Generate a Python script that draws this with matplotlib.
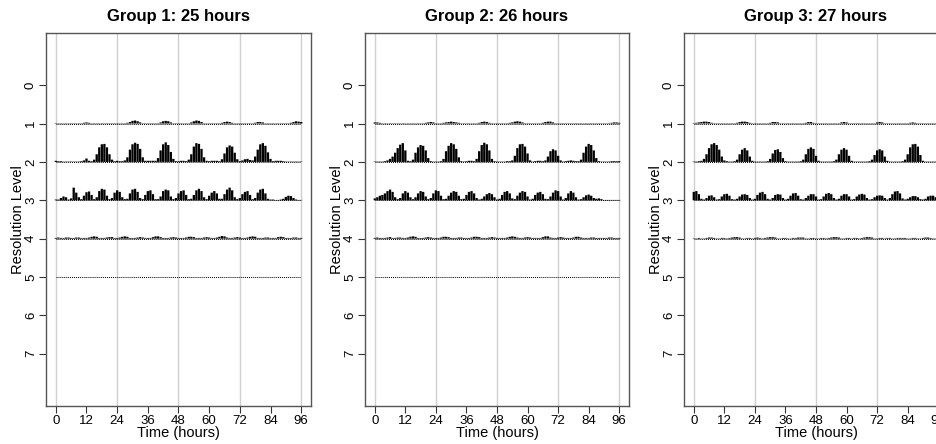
import matplotlib

matplotlib.use("Agg")

import matplotlib.pyplot as plt  # noqa: E402
import numpy as np  # noqa: E402

plt.rcParams["font.family"] = ["Liberation Sans", "DejaVu Sans"]

# hourly time axis shared by all panels
HOURS = np.arange(97)
TITLES = ["Group 1: 25 hours", "Group 2: 26 hours", "Group 3: 27 hours"]
X_TICKS = [0, 12, 24, 36, 48, 60, 72, 84, 96]
X_GRID = [0, 24, 48, 72, 96]
Y_TICKS = [0, 1, 2, 3, 4, 5, 6, 7]

# coefficient magnitudes, hundredths of a level spacing, one value per hour
G1_L1 = [1, 1, 1, 1, 1, 1, 1, 1, 1, 1, 1, 2, 3, 2, 1, 1, 1, 1, 1, 1,
         1, 1, 1, 1, 1, 1, 1, 1, 2, 4, 7, 8, 6, 3, 1, 1, 1, 1, 1, 1,
         1, 3, 6, 7, 6, 3, 1, 1, 1, 1, 1, 1, 1, 3, 6, 8, 7, 4, 1, 1,
         1, 1, 1, 1, 1, 2, 4, 5, 4, 2, 1, 1, 1, 1, 1, 1, 1, 1, 2, 4,
         4, 3, 1, 1, 1, 1, 1, 1, 1, 1, 1, 1, 2, 4, 6, 5, 4]
G1_L2 = [3, 2, 2, 1, 1, 1, 1, 1, 1, 1, 2, 4, 9, 3, 2, 6, 20, 38, 46, 47,
         38, 20, 6, 2, 3, 2, 2, 4, 12, 32, 46, 50, 47, 34, 12, 3, 3, 3, 3, 3,
         10, 30, 46, 51, 44, 26, 8, 2, 2, 3, 3, 2, 6, 20, 40, 49, 47, 34, 12, 3,
         2, 3, 3, 3, 2, 7, 22, 38, 43, 40, 24, 7, 2, 4, 7, 8, 5, 4, 14, 32,
         46, 49, 42, 25, 8, 2, 3, 3, 3, 2, 1, 1, 1, 1, 1, 1, 1]
G1_L3 = [2, 2, 6, 10, 8, 2, 5, 33, 20, 8, 3, 12, 21, 23, 14, 3, 8, 24, 30, 28,
         12, 3, 6, 20, 26, 22, 8, 3, 4, 18, 28, 30, 22, 6, 3, 14, 24, 26, 16, 3,
         3, 10, 24, 28, 26, 10, 3, 6, 18, 24, 26, 14, 3, 4, 14, 26, 30, 24, 8, 3,
         12, 20, 24, 18, 4, 4, 16, 28, 33, 26, 8, 3, 6, 16, 22, 24, 14, 3, 6, 20,
         28, 30, 18, 4, 2, 2, 1, 1, 2, 4, 9, 12, 11, 6, 2, 1, 1]
G1_L4 = [2, 3, 2, 2, 3, 3, 2, 2, 3, 3, 2, 2, 2, 3, 5, 6, 5, 2, 2, 2,
         3, 4, 4, 2, 2, 3, 5, 6, 5, 2, 2, 2, 3, 4, 3, 2, 2, 2, 4, 6,
         6, 4, 2, 2, 2, 3, 4, 3, 2, 2, 2, 3, 5, 5, 4, 2, 2, 2, 3, 4,
         3, 2, 2, 3, 5, 7, 6, 3, 2, 2, 3, 4, 3, 2, 2, 3, 5, 6, 5, 2,
         2, 2, 3, 3, 2, 2, 2, 4, 5, 4, 2, 2, 2, 3, 3, 2, 2]
G1_L5 = [0] * 97

G2_L1 = [3, 3, 2, 1, 1, 1, 1, 1, 1, 1, 1, 1, 1, 1, 1, 1, 1, 1, 1, 1,
         2, 3, 4, 3, 1, 1, 1, 2, 3, 4, 5, 4, 3, 2, 1, 1, 1, 1, 1, 1,
         1, 2, 4, 5, 4, 2, 1, 1, 1, 1, 1, 1, 1, 2, 3, 5, 6, 5, 3, 1,
         1, 1, 1, 1, 1, 1, 2, 4, 5, 5, 3, 1, 1, 1, 1, 1, 1, 1, 1, 1,
         1, 1, 1, 1, 1, 1, 1, 1, 1, 1, 1, 1, 1, 2, 3, 3, 2]
G2_L2 = [1, 1, 1, 1, 2, 4, 8, 14, 24, 36, 45, 49, 30, 3, 2, 6, 24, 38, 44, 42,
         30, 10, 2, 1, 1, 1, 2, 8, 28, 42, 49, 46, 34, 12, 2, 1, 2, 3, 3, 2,
         8, 28, 44, 50, 46, 30, 8, 2, 1, 1, 1, 1, 2, 2, 4, 16, 36, 46, 47, 40,
         22, 4, 1, 2, 3, 3, 2, 4, 14, 28, 33, 30, 16, 4, 1, 2, 3, 4, 3, 2,
         2, 6, 24, 40, 47, 44, 30, 10, 2, 1, 1, 1, 1, 2, 2, 2, 2]
G2_L3 = [5, 8, 12, 14, 18, 24, 28, 22, 8, 3, 6, 18, 24, 20, 8, 3, 8, 18, 24, 22,
         10, 3, 6, 18, 26, 24, 12, 3, 4, 12, 20, 24, 22, 12, 3, 4, 14, 22, 24, 18,
         6, 2, 4, 10, 16, 19, 16, 8, 2, 4, 14, 22, 24, 18, 5, 3, 12, 20, 24, 22,
         10, 2, 4, 14, 20, 22, 16, 4, 3, 10, 20, 26, 24, 10, 2, 6, 18, 24, 20, 8,
         2, 3, 8, 13, 15, 12, 6, 4, 5, 3, 1, 1, 1, 1, 1, 1, 1]
G2_L4 = [2, 3, 2, 2, 2, 3, 4, 2, 2, 3, 3, 2, 2, 3, 5, 6, 5, 2, 2, 2,
         3, 4, 3, 2, 2, 2, 3, 5, 5, 4, 2, 2, 2, 3, 3, 2, 2, 2, 3, 5,
         5, 4, 2, 2, 2, 3, 4, 3, 2, 2, 2, 2, 3, 5, 6, 5, 3, 2, 2, 3,
         4, 3, 2, 2, 2, 2, 4, 6, 6, 3, 2, 2, 3, 4, 3, 2, 2, 2, 3, 5,
         5, 3, 2, 2, 2, 3, 3, 2, 2, 2, 2, 2, 3, 3, 2, 2, 2]
G2_L5 = [0] * 97

G3_L1 = [1, 2, 3, 4, 5, 5, 4, 2, 1, 1, 1, 1, 1, 1, 1, 1, 1, 2, 4, 5,
         5, 4, 2, 1, 1, 1, 1, 1, 1, 1, 2, 4, 4, 3, 1, 1, 1, 1, 1, 1,
         1, 1, 1, 1, 2, 4, 4, 2, 1, 1, 1, 1, 1, 1, 1, 1, 1, 1, 3, 4,
         3, 1, 1, 1, 1, 1, 1, 1, 1, 1, 1, 1, 3, 4, 3, 1, 1, 1, 1, 1,
         1, 1, 1, 1, 1, 2, 3, 2, 1, 1, 1, 1, 1, 1, 1, 1, 1]
G3_L2 = [1, 1, 2, 3, 8, 20, 36, 46, 49, 44, 32, 14, 4, 2, 1, 1, 2, 6, 20, 32,
         36, 30, 14, 3, 1, 1, 1, 1, 1, 2, 8, 22, 31, 33, 26, 10, 2, 1, 1, 1,
         1, 1, 2, 6, 20, 34, 38, 34, 16, 3, 1, 1, 1, 1, 1, 2, 6, 20, 32, 36,
         32, 16, 3, 1, 1, 1, 1, 1, 1, 2, 6, 18, 30, 33, 30, 14, 3, 1, 1, 1,
         1, 1, 2, 6, 20, 38, 46, 47, 40, 18, 3, 1, 1, 1, 1, 1, 1]
G3_L3 = [22, 24, 16, 4, 2, 6, 12, 13, 8, 2, 3, 10, 16, 17, 12, 3, 2, 4, 10, 15,
         16, 14, 6, 2, 4, 14, 20, 22, 16, 4, 2, 6, 14, 16, 15, 6, 2, 4, 12, 18,
         19, 12, 3, 2, 6, 12, 16, 16, 10, 2, 3, 10, 17, 19, 16, 6, 2, 4, 12, 16,
         16, 10, 2, 3, 10, 15, 17, 15, 6, 2, 3, 8, 12, 13, 12, 6, 2, 6, 16, 23,
         24, 18, 5, 2, 4, 8, 11, 11, 8, 3, 2, 4, 10, 12, 12, 8, 4]
G3_L4 = [1, 1, 2, 1, 1, 2, 3, 3, 2, 1, 1, 2, 2, 1, 2, 3, 4, 4, 3, 1,
         1, 2, 2, 1, 2, 3, 2, 1, 2, 3, 4, 4, 3, 1, 1, 2, 2, 1, 1, 2,
         2, 3, 3, 3, 1, 1, 2, 2, 1, 1, 2, 2, 1, 2, 3, 4, 4, 3, 1, 1,
         2, 2, 1, 2, 2, 1, 2, 3, 4, 4, 3, 1, 1, 2, 2, 1, 2, 2, 1, 1,
         2, 2, 2, 2, 1, 1, 2, 2, 1, 1, 2, 3, 3, 2, 1, 1, 1]

GROUPS = [
    {1: G1_L1, 2: G1_L2, 3: G1_L3, 4: G1_L4, 5: G1_L5},
    {1: G2_L1, 2: G2_L2, 3: G2_L3, 4: G2_L4, 5: G2_L5},
    {1: G3_L1, 2: G3_L2, 3: G3_L3, 4: G3_L4},
]

W, H = 937, 444
fig = plt.figure(figsize=(W / 100, H / 100), dpi=100)

# panel boxes in pixels (left, top, right, bottom); third one runs off the edge
BOXES = [(46, 33, 311, 406), (365, 33, 629, 406), (684, 33, 948, 406)]

for box, title, levels in zip(BOXES, TITLES, GROUPS):
    l, t, r, b = box
    ax = fig.add_axes([l / W, (H - b) / H, (r - l) / W, (b - t) / H])
    for xg in X_GRID:
        ax.axvline(xg, color="#d0d0d0", lw=1.0, zorder=0)
    for lev, vals in levels.items():
        h = np.asarray(vals) / 100.0
        ax.plot([HOURS[0], HOURS[-1]], [lev, lev], color="black", lw=0.7,
                ls=(0, (1, 1)), zorder=2)
        ax.vlines(HOURS, lev, lev - h, color="black", lw=1.65, zorder=3,
                  snap=False)
    ax.set_xlim(-3.84, 99.84)
    ax.set_ylim(8.36, -1.36)
    ax.set_xticks(X_TICKS)
    ax.set_yticks(Y_TICKS)
    ax.set_yticklabels([str(v) for v in Y_TICKS], rotation=90, va="center")
    ax.tick_params(axis="both", labelsize=9.5, length=5, width=0.8,
                   color="#333333", pad=1.5)
    for sp in ax.spines.values():
        sp.set_edgecolor("#555555")
        sp.set_linewidth(1.0)
    ax.set_xlabel("Time (hours)", fontsize=10.5, labelpad=-1)
    ax.set_ylabel("Resolution Level", fontsize=10.5, labelpad=0)
    ax.set_title(title, fontsize=12, fontweight="bold", pad=9)

fig.savefig("out.png", dpi=100, facecolor="white")
